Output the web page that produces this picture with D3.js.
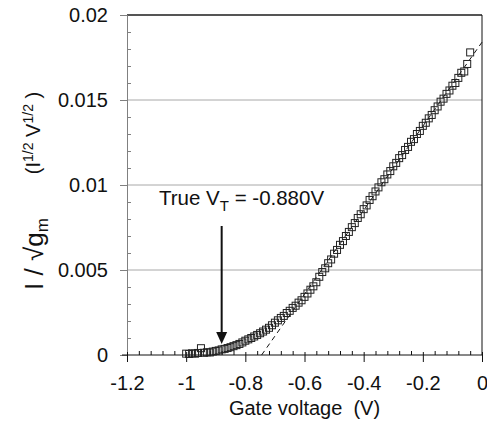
<!DOCTYPE html>
<html>
  <head>
    <meta charset="utf-8" />
    <title>Gate voltage plot</title>
    <style type="text/css">
      html, body { margin: 0; padding: 0; background: #fff; }
      svg text { font-family: "Liberation Sans", Arial, Helvetica, sans-serif; fill: #111; }
    </style>
  </head>
  <body>
    <svg id="chart" width="487" height="426"></svg>

    <script type="text/javascript" src="https://cdn.jsdelivr.net/npm/d3@7/dist/d3.min.js"></script>
    <script type="text/javascript">

    // measured gate voltage (V)
    var gateVoltage = [
      -1.00, -0.99, -0.98, -0.97, -0.96, -0.95, -0.94, -0.93, -0.92, -0.91,
      -0.90, -0.89, -0.88, -0.87, -0.86, -0.85, -0.84, -0.83, -0.82, -0.81,
      -0.80, -0.79, -0.78, -0.77, -0.76, -0.75, -0.74, -0.73, -0.72, -0.71,
      -0.70, -0.69, -0.68, -0.67, -0.66, -0.65, -0.64, -0.63, -0.62, -0.61,
      -0.60, -0.59, -0.58, -0.57, -0.56, -0.55, -0.54, -0.53, -0.52, -0.51,
      -0.50, -0.49, -0.48, -0.47, -0.46, -0.45, -0.44, -0.43, -0.42, -0.41,
      -0.40, -0.39, -0.38, -0.37, -0.36, -0.35, -0.34, -0.33, -0.32, -0.31,
      -0.30, -0.29, -0.28, -0.27, -0.26, -0.25, -0.24, -0.23, -0.22, -0.21,
      -0.20, -0.19, -0.18, -0.17, -0.16, -0.15, -0.14, -0.13, -0.12, -0.11,
      -0.10, -0.09, -0.08, -0.07, -0.06, -0.05, -0.04
    ];

    // I / sqrt(gm)
    var ratio = [
      0.00008, 0.00006, 0.00010, 0.00008, 0.00012, 0.00040, 0.00013, 0.00016, 0.00015, 0.00020,
      0.00024, 0.00027, 0.00033, 0.00036, 0.00041, 0.00046, 0.00052, 0.00058, 0.00065, 0.00074,
      0.00084, 0.00092, 0.00100, 0.00109, 0.00118, 0.00128, 0.00138, 0.00149, 0.00160, 0.00175,
      0.00190, 0.00204, 0.00218, 0.00230, 0.00247, 0.00260, 0.00277, 0.00290, 0.00308, 0.00322,
      0.00342, 0.00362, 0.00384, 0.00404, 0.00428, 0.00460, 0.00488, 0.00510, 0.00540, 0.00562,
      0.00596, 0.00618, 0.00648, 0.00670, 0.00700, 0.00724, 0.00752, 0.00776, 0.00806, 0.00828,
      0.00858, 0.00880, 0.00912, 0.00934, 0.00962, 0.00986, 0.01016, 0.01034, 0.01062, 0.01082,
      0.01110, 0.01130, 0.01158, 0.01176, 0.01206, 0.01224, 0.01254, 0.01270, 0.01300, 0.01318,
      0.01348, 0.01366, 0.01392, 0.01412, 0.01440, 0.01462, 0.01490, 0.01508, 0.01536, 0.01556,
      0.01584, 0.01600, 0.01630, 0.01660, 0.01668, 0.01712, 0.01780
    ];

    // linear extrapolation line (V, value)
    var fitLine = [[-0.745, 0], [0, 0.0184]];
    var trueVT = -0.88;

    var xTicks = [-1.2, -1, -0.8, -0.6, -0.4, -0.2, 0];
    var xTickLabels = ["-1.2", "-1", "-0.8", "-0.6", "-0.4", "-0.2", "0"];
    var xMinor = [-1.16, -1.12, -1.08, -1.04, -0.96, -0.92, -0.88, -0.84, -0.76, -0.72, -0.68, -0.64,
                  -0.56, -0.52, -0.48, -0.44, -0.36, -0.32, -0.28, -0.24, -0.16, -0.12, -0.08, -0.04];
    var yTicks = [0, 0.005, 0.01, 0.015, 0.02];
    var yTickLabels = ["0", "0.005", "0.01", "0.015", "0.02"];
    var yMinor = [0.001, 0.002, 0.003, 0.004, 0.006, 0.007, 0.008, 0.009,
                  0.011, 0.012, 0.013, 0.014, 0.016, 0.017, 0.018, 0.019];

    var svg = d3.select('#chart');

    var x = d3.scaleLinear().domain([-1.2, 0]).range([127, 482]);
    var y = d3.scaleLinear().domain([0, 0.02]).range([355, 15]);

    // grid
    svg.append('g')
       .selectAll('line')
       .data(yTicks.filter(function(d) { return d > 0 && d < 0.02; }))
       .enter()
       .append('line')
         .attr('x1', x(-1.2)).attr('x2', x(0))
         .attr('y1', function(d) { return y(d); })
         .attr('y2', function(d) { return y(d); })
         .attr('stroke', '#a8a8a8')
         .attr('stroke-width', 1);

    // top frame (gray, heavier) and right frame
    svg.append('line')
       .attr('x1', x(-1.2)).attr('x2', x(0))
       .attr('y1', y(0.02)).attr('y2', y(0.02))
       .attr('stroke', '#555').attr('stroke-width', 2);
    svg.append('line')
       .attr('x1', x(0)).attr('x2', x(0))
       .attr('y1', y(0.02)).attr('y2', y(0))
       .attr('stroke', '#111').attr('stroke-width', 1);

    // y axis
    var yAxis = svg.append('g')
       .attr('transform', 'translate(' + x(-1.2) + ',0)')
       .call(d3.axisLeft(y).tickValues(yTicks).tickSize(7)
              .tickFormat(function(d, i) { return yTickLabels[i]; }));
    yAxis.select('.domain').attr('stroke', '#808080');
    yAxis.selectAll('.tick line').attr('stroke', '#808080');
    yAxis.selectAll('.tick text')
         .attr('x', -19).attr('dy', '0.34em')
         .style('font-size', '20px').attr('fill', '#111');
    yAxis.attr('font-family', null).attr('font-size', null);

    var yMinorAxis = svg.append('g')
       .attr('transform', 'translate(' + x(-1.2) + ',0)')
       .call(d3.axisRight(y).tickValues(yMinor).tickSize(4).tickFormat(''));
    yMinorAxis.select('.domain').remove();
    yMinorAxis.selectAll('.tick line').attr('stroke', '#808080');

    // x axis
    var xAxis = svg.append('g')
       .attr('transform', 'translate(0,' + y(0) + ')')
       .call(d3.axisBottom(x).tickValues(xTicks).tickSize(7)
              .tickFormat(function(d, i) { return xTickLabels[i]; }));
    xAxis.select('.domain').remove();
    xAxis.append('line')
         .attr('x1', x(-1.2) - 5).attr('x2', x(0))
         .attr('stroke', '#111');
    xAxis.selectAll('.tick line').attr('y1', -3).attr('stroke', '#111');
    xAxis.selectAll('.tick text')
         .attr('y', 35).attr('dy', 0)
         .style('font-size', '20px').attr('fill', '#111');
    xAxis.attr('font-family', null).attr('font-size', null);

    var xMinorAxis = svg.append('g')
       .attr('transform', 'translate(0,' + y(0) + ')')
       .call(d3.axisTop(x).tickValues(xMinor).tickSize(4).tickFormat(''));
    xMinorAxis.select('.domain').remove();
    xMinorAxis.selectAll('.tick line').attr('stroke', '#111');

    // extrapolated line
    svg.append('line')
       .attr('x1', x(fitLine[0][0])).attr('y1', y(fitLine[0][1]))
       .attr('x2', x(fitLine[1][0])).attr('y2', y(fitLine[1][1]))
       .attr('stroke', '#111')
       .attr('stroke-width', 1)
       .attr('stroke-dasharray', '5,4');

    // data squares
    var sq = 7;
    svg.append('g')
       .selectAll('rect')
       .data(d3.zip(gateVoltage, ratio))
       .enter()
       .append('rect')
         .attr('x', function(d) { return x(d[0]) - sq / 2; })
         .attr('y', function(d) { return y(d[1]) - sq / 2; })
         .attr('width', sq)
         .attr('height', sq)
         .attr('fill', 'none')
         .attr('stroke', '#222')
         .attr('stroke-width', 1);

    // annotation arrow
    var ax = x(trueVT);
    svg.append('line')
       .attr('x1', ax).attr('x2', ax)
       .attr('y1', 226).attr('y2', 333)
       .attr('stroke', '#111').attr('stroke-width', 2);
    svg.append('path')
       .attr('d', 'M' + (ax - 5.5) + ',332L' + (ax + 5.5) + ',332L' + ax + ',344Z')
       .attr('fill', '#111');

    var note = svg.append('text')
       .attr('x', 159).attr('y', 205)
       .style('font-size', '20.5px');
    note.append('tspan').text('True V');
    note.append('tspan').attr('dy', 6).style('font-size', '15px').text('T');
    note.append('tspan').attr('dy', -6).text(' = -0.880V');

    // axis titles
    svg.append('text')
       .attr('x', x(-0.6)).attr('y', 415)
       .attr('text-anchor', 'middle')
       .style('font-size', '20px')
       .text('Gate voltage\u00a0\u00a0(V)');

    var yt1 = svg.append('text')
       .attr('transform', 'translate(43,254) rotate(-90)')
       .attr('text-anchor', 'middle')
       .style('font-size', '26px');
    yt1.append('tspan').text('I / \u221Ag');
    yt1.append('tspan').attr('dy', 5).style('font-size', '17px').text('m');

    var yt2 = svg.append('text')
       .attr('transform', 'translate(40,133) rotate(-90)')
       .attr('text-anchor', 'middle')
       .style('font-size', '20px');
    yt2.append('tspan').text('(I');
    yt2.append('tspan').attr('dy', -7).style('font-size', '14px').text('1/2');
    yt2.append('tspan').attr('dy', 7).text(' V');
    yt2.append('tspan').attr('dy', -7).style('font-size', '14px').text('1/2');
    yt2.append('tspan').attr('dy', 7).text(' )');

    </script>
  </body>
</html>
